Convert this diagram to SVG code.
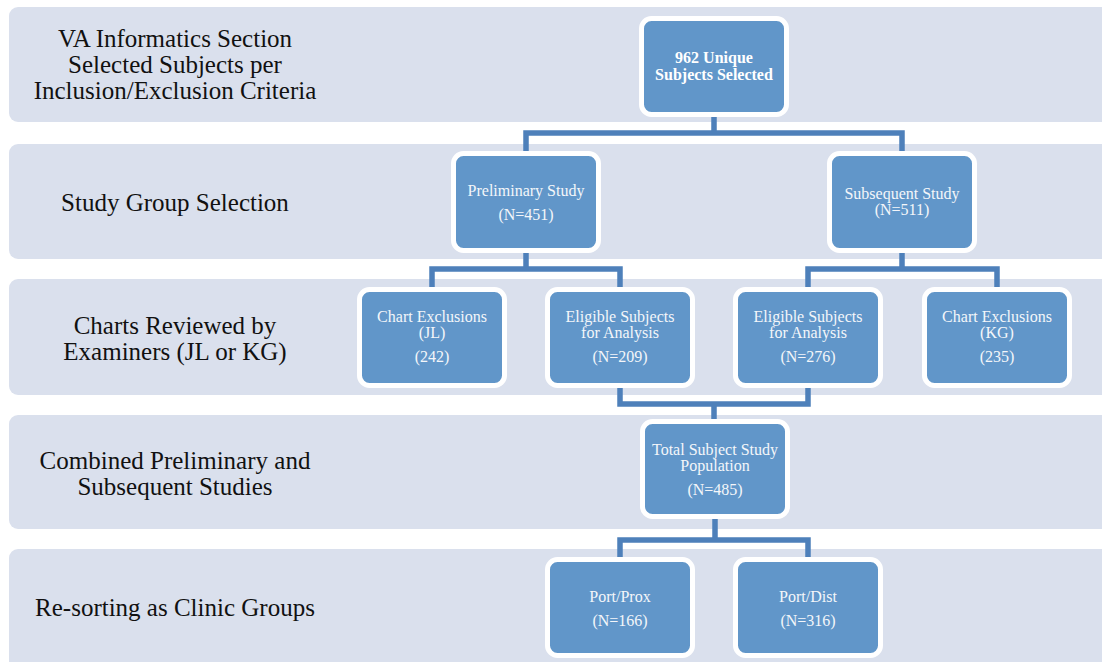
<svg xmlns="http://www.w3.org/2000/svg" width="1102" height="662" viewBox="0 0 1102 662">
<style>
.band{fill:#DAE0ED}
.lbl{font-family:"Liberation Serif",serif;font-size:25px;fill:#111;text-anchor:middle}
.box{fill:#6196C9;stroke:#fff;stroke-width:5}
.t{font-family:"Liberation Serif",serif;font-size:16px;fill:#F4F6FA;text-anchor:middle}
.tb{font-family:"Liberation Serif",serif;font-size:16px;font-weight:bold;fill:#fff;text-anchor:middle}
.con{fill:none;stroke:#4E80BA;stroke-width:5.5;stroke-linejoin:miter;stroke-linecap:butt}
</style>
<rect width="1102" height="662" fill="#fff"/>
<g id="bands">
<rect class="band" x="9" y="7" width="1110" height="115" rx="9"/>
<rect class="band" x="9" y="144" width="1110" height="115" rx="9"/>
<rect class="band" x="9" y="279" width="1110" height="116" rx="9"/>
<rect class="band" x="9" y="415" width="1110" height="114" rx="9"/>
<rect class="band" x="9" y="549" width="1110" height="125" rx="9"/>
</g>
<g id="labels">
<text class="lbl" x="175" y="47">VA Informatics Section</text>
<text class="lbl" x="175" y="73">Selected Subjects per</text>
<text class="lbl" x="175" y="99">Inclusion/Exclusion Criteria</text>
<text class="lbl" x="175" y="211">Study Group Selection</text>
<text class="lbl" x="175" y="334">Charts Reviewed by</text>
<text class="lbl" x="175" y="360">Examiners (JL or KG)</text>
<text class="lbl" x="175" y="469">Combined Preliminary and</text>
<text class="lbl" x="175" y="495">Subsequent Studies</text>
<text class="lbl" x="175" y="616">Re-sorting as Clinic Groups</text>
</g>
<g id="connectors">
<path class="con" d="M714 117 V133 M526 151 V133 H902 V151"/>
<path class="con" d="M526 253 V269 M432 287 V269 H620 V287"/>
<path class="con" d="M902 253 V269 M808 287 V269 H997 V287"/>
<path class="con" d="M620 388 V404 H808 V388 M714 404 V419"/>
<path class="con" d="M715 519 V540 M620 557 V540 H808 V557"/>
</g>
<g id="n962">
<rect class="box" x="641.5" y="18.5" width="145" height="96" rx="10"/>
<text class="tb" x="714" y="63">962 Unique</text>
<text class="tb" x="714" y="80">Subjects Selected</text>
</g>
<g id="prelim">
<rect class="box" x="453.5" y="153.5" width="145" height="97" rx="10"/>
<text class="t" x="526" y="196">Preliminary Study</text>
<text class="t" x="526" y="220">(N=451)</text>
</g>
<g id="subseq">
<rect class="box" x="829.5" y="153.5" width="145" height="97" rx="10"/>
<text class="t" x="902" y="199">Subsequent Study</text>
<text class="t" x="902" y="215">(N=511)</text>
</g>
<g id="exclJL">
<rect class="box" x="359.5" y="289.5" width="145" height="96" rx="10"/>
<text class="t" x="432" y="322">Chart Exclusions</text>
<text class="t" x="432" y="338">(JL)</text>
<text class="t" x="432" y="362">(242)</text>
</g>
<g id="elig209">
<rect class="box" x="547.5" y="289.5" width="145" height="96" rx="10"/>
<text class="t" x="620" y="322">Eligible Subjects</text>
<text class="t" x="620" y="338">for Analysis</text>
<text class="t" x="620" y="362">(N=209)</text>
</g>
<g id="elig276">
<rect class="box" x="735.5" y="289.5" width="145" height="96" rx="10"/>
<text class="t" x="808" y="322">Eligible Subjects</text>
<text class="t" x="808" y="338">for Analysis</text>
<text class="t" x="808" y="362">(N=276)</text>
</g>
<g id="exclKG">
<rect class="box" x="924.5" y="289.5" width="145" height="96" rx="10"/>
<text class="t" x="997" y="322">Chart Exclusions</text>
<text class="t" x="997" y="338">(KG)</text>
<text class="t" x="997" y="362">(235)</text>
</g>
<g id="total">
<rect class="box" x="642.5" y="421.5" width="145" height="95" rx="10"/>
<text class="t" x="715" y="455">Total Subject Study</text>
<text class="t" x="715" y="471">Population</text>
<text class="t" x="715" y="495">(N=485)</text>
</g>
<g id="prox">
<rect class="box" x="547.5" y="559.5" width="145" height="96" rx="10"/>
<text class="t" x="620" y="602">Port/Prox</text>
<text class="t" x="620" y="626">(N=166)</text>
</g>
<g id="dist">
<rect class="box" x="735.5" y="559.5" width="145" height="96" rx="10"/>
<text class="t" x="808" y="602">Port/Dist</text>
<text class="t" x="808" y="626">(N=316)</text>
</g>
</svg>
